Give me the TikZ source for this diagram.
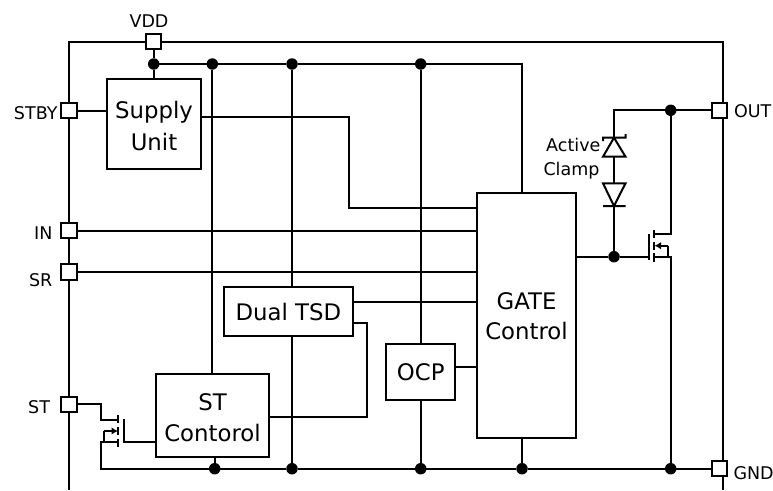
\documentclass[tikz,border=0pt]{standalone}
\usepackage{fontspec}
\setmainfont{DejaVu Sans}
\usetikzlibrary{arrows.meta, calc}
\tikzset{
    pad/.style={draw, fill=white, rectangle, minimum size=15.5pt, inner sep=0pt, outer sep=0pt},
    block/.style={draw, fill=white, rectangle, align=center, inner sep=0pt, outer sep=0pt, font=\fontsize{22.8}{30}\selectfont},
    dot/.style={fill, circle, minimum size=11.5pt, inner sep=0pt, outer sep=0pt},
    pinlabel/.style={inner sep=0pt, font=\fontsize{17.5}{23}\selectfont},
    fet/.style={-{Latex[length=6.5pt, width=7.5pt]}}
}

\begin{document}
\begin{tikzpicture}[x=1pt, y=-1pt, line width=2pt]
    \useasboundingbox (0, 0) rectangle (773, 490);

    \node[pad] (vdd) at (153.7, 41.7) {};
    \node[pad] (stby) at (69, 110.5) {};
    \node[pad] (in) at (69, 230.5) {};
    \node[pad] (sr) at (69, 272) {};
    \node[pad] (st) at (69, 404.3) {};
    \node[pad] (out) at (719.5, 110.3) {};
    \node[pad] (gnd) at (719.5, 468.7) {};

    \node[pinlabel] (vddlabel) at (149, 21) {VDD};
    \node[pinlabel, anchor=east] (stbylabel) at (58.5, 113.5) {STBY};
    \node[pinlabel, anchor=east] (inlabel) at (53.5, 233.3) {IN};
    \node[pinlabel, anchor=east] (srlabel) at (53.3, 279.7) {SR};
    \node[pinlabel, anchor=east] (stlabel) at (51, 407) {ST};
    \node[pinlabel, anchor=west] (outlabel) at (733, 110.7) {OUT};
    \node[pinlabel, anchor=west] (gndlabel) at (732.5, 473) {GND};
    \node[pinlabel, anchor=base] (activelabel) at (573.3, 151.7) {Active};
    \node[pinlabel, anchor=base] (clamplabel) at (571.5, 175.5) {Clamp};

    \node[block, minimum width=94.6pt, minimum height=89.4pt] (supply) at (154, 124) {\rule{0pt}{20.8pt}Supply\\[1.7pt]Unit};
    \node[block, minimum width=128.7pt, minimum height=48.7pt] (tsd) at (288.3, 311.7) {Dual TSD};
    \node[block, minimum width=113.6pt, minimum height=83.3pt] (stctrl) at (212.5, 415.7) {\rule{0pt}{20.8pt}ST\\[1.7pt]Contorol};
    \node[block, minimum width=68.7pt, minimum height=56.3pt] (ocp) at (420.7, 372.2) {OCP};
    \node[block, minimum width=99pt, minimum height=245pt] (gate) at (526.5, 315.5) {\rule{0pt}{19pt}GATE\\Control};

    \node[dot] (vddA) at (153.7, 64) {};
    \node[dot] (vddB) at (212.3, 64) {};
    \node[dot] (vddC) at (292, 64) {};
    \node[dot] (vddD) at (420.7, 64) {};
    \node[dot] (gndA) at (214.7, 468.7) {};
    \node[dot] (gndB) at (292, 468.7) {};
    \node[dot] (gndC) at (420.7, 468.7) {};
    \node[dot] (gndD) at (522, 468.7) {};
    \node[dot] (gndE) at (670.7, 468.7) {};
    \node[dot] (outA) at (670.7, 110.3) {};
    \node[dot] (gateA) at (614, 256.7) {};

    \coordinate (rail) at (723, 490);
    \coordinate (railleft) at (69, 490);
    \coordinate (gatetop) at (522, 193);
    \coordinate (gatebot) at (522, 438);
    \coordinate (supplyout) at (201.3, 117.3);
    \coordinate (supplyturn) at (349, 208);
    \coordinate (tsdout) at (352.7, 302.3);
    \coordinate (tsdback) at (352.7, 322.7);
    \coordinate (tsdturn) at (367.3, 417.3);
    \coordinate (stout) at (269.3, 417.3);
    \coordinate (ocpout) at (455, 366.7);
    \coordinate (stgate) at (155.7, 442.3);
    \coordinate (sttop) at (212.3, 374);
    \coordinate (stbot) at (214.7, 457.3);
    \coordinate (gatedrive) at (576, 256.7);

    % frame
    \draw
    (vdd.west) -| (stby.north)
    (stby.south) -- (in.north)
    (in.south) -- (sr.north)
    (sr.south) -- (st.north)
    (st.south) -- (railleft)
    (vdd.east) -| (out.north -| rail)
    (out.south -| rail) -- (gnd.north -| rail)
    (gnd.south -| rail) -- (rail);

    % supply rail
    \draw
    (vdd.south) -- (vddA) -- (vddA |- supply.north)
    (vddA) -- (vddB) -- (vddC) -- (vddD) -| (gatetop)
    (vddB) -- (sttop)
    (vddC) -- (vddC |- tsd.north)
    (vddD) -- (ocp.north)
    (stby.east) -- (stby.east -| supply.west)
    (supplyout) -| (supplyturn) -- (supplyturn -| gate.west)
    (in.east) -- (in.east -| gate.west)
    (sr.east) -- (sr.east -| gate.west);

    % blocks to gate control
    \draw
    (tsdout) -- (tsdout -| gate.west)
    (tsdback) -| (tsdturn) -- (stout)
    (ocpout) -- (ocpout -| gate.west);

    % ground rail
    \draw
    (stbot) -- (gndA)
    (gndB) -- (gndB |- tsd.south)
    (gndC) -- (ocp.south)
    (gndD) -- (gatebot)
    (gnd.west) -- (gndE) -- (gndD) -- (gndC) -- (gndB) -- (gndA) -- (101, 468.7) -- (101, 442.3) -- (118.3, 442.3);

    % output mosfet and clamp
    \draw
    (out.west) -- (outA) -- (614, 110.3) -- (614, 137.7)
    (614, 156.7) -- (614, 183.3)
    (614, 206) -- (gateA)
    (gatedrive) -- (gateA) -- (649, 256.7)
    (649, 234) -- (649, 260)
    (654, 230) -- (654, 238)
    (654, 242) -- (654, 250)
    (654, 253) -- (654, 262)
    (654, 234.3) -- (670.7, 234.3) -- (outA)
    (654, 256.7) -- (gndE |- 654, 256.7) -- (gndE)
    (667.7, 256.7) -- (667.7, 245.7);
    \draw[fet] (667.7, 245.7) -- (654.5, 245.7);
    \draw
    (603, 156.7) -- (625.5, 156.7) -- (614, 137.7) -- cycle
    (603, 141) -- (603, 137.7) -- (625.5, 137.7) -- (625.5, 134)
    (603, 183.3) -- (625.5, 183.3) -- (614, 206) -- cycle
    (603, 206) -- (625.5, 206);

    % status mosfet
    \draw
    (st.east) -- (101, 404.3) -- (101, 419.7) -- (118.3, 419.7)
    (118.3, 415) -- (118.3, 423)
    (118.3, 427) -- (118.3, 435)
    (118.3, 439.3) -- (118.3, 446.7)
    (123.7, 419.3) -- (123.7, 442.3) -- (stgate)
    (104.3, 442.3) -- (104.3, 431);
    \draw[fet] (104.3, 431) -- (118, 431);
\end{tikzpicture}
\end{document}
